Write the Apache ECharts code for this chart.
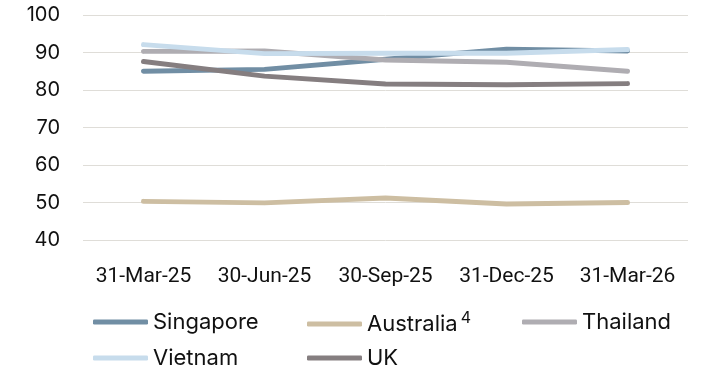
<!DOCTYPE html>
<html><head><meta charset="utf-8">
<script src="https://cdn.jsdelivr.net/npm/echarts@6/dist/echarts.min.js"></script>
<style>html,body{margin:0;padding:0;background:#fff}#c{width:701px;height:370px}</style>
</head><body><div id="c"></div>
<script>
const categories = ['31-Mar-25','30-Jun-25','30-Sep-25','31-Dec-25','31-Mar-26'];
const singapore = [85.0, 85.5, 88.2, 90.9, 90.4];
const australia = [50.3, 49.9, 51.2, 49.6, 50.0];
const thailand  = [90.3, 90.4, 88.0, 87.4, 85.0];
const vietnam   = [92.1, 89.7, 89.8, 89.8, 90.8];
const uk        = [87.6, 83.7, 81.6, 81.4, 81.7];
const yTicks = [40, 50, 60, 70, 80, 90, 100];

const FONT = 'Inter';
const names = ['Singapore','Australia','Thailand','Vietnam','UK'];
const colors = ['#718ea4','#cdbea2','#afadb2','#c7dcec','#857e80'];
const datas = [singapore, australia, thailand, vietnam, uk];
const legendPos = [[93,310],[307,310],[522,310],[93,346],[307,346]];

const chart = echarts.init(document.getElementById('c'));
chart.setOption({
  animation: false,
  grid: {left: 83, right: 13, top: 15, bottom: 130, containLabel: false},
  xAxis: {
    type: 'category', data: categories, boundaryGap: true,
    axisLine: {show: false}, axisTick: {show: false},
    axisLabel: {interval: 0, color: '#111', fontFamily: 'Roboto', fontSize: 21, margin: 26}
  },
  yAxis: {
    type: 'value', min: yTicks[0], max: yTicks[yTicks.length-1], interval: 10,
    axisLine: {show: false}, axisTick: {show: false},
    splitLine: {lineStyle: {color: '#dfddd8', width: 1}},
    axisLabel: {color: '#111', fontFamily: FONT, fontSize: 20, margin: 23}
  },
  legend: names.map((n, i) => ({
    data: [n], left: legendPos[i][0], top: legendPos[i][1], padding: 0,
    itemWidth: 55, itemHeight: 5, icon: 'roundRect',
    textStyle: {color: '#111', fontFamily: FONT, fontSize: 22, lineHeight: 24,
      rich: {sup: {color: '#111', fontFamily: FONT, fontSize: 16, lineHeight: 14, padding: [0,0,12,3]}}},
    formatter: n === 'Australia' ? (x => x + '{sup|4}') : undefined
  })),
  series: names.map((n, i) => ({
    name: n, type: 'line', data: datas[i], showSymbol: false, symbol: 'none',
    color: colors[i],
    lineStyle: {width: 5, color: colors[i], cap: 'round', join: 'round'}
  }))
});
</script></body></html>
